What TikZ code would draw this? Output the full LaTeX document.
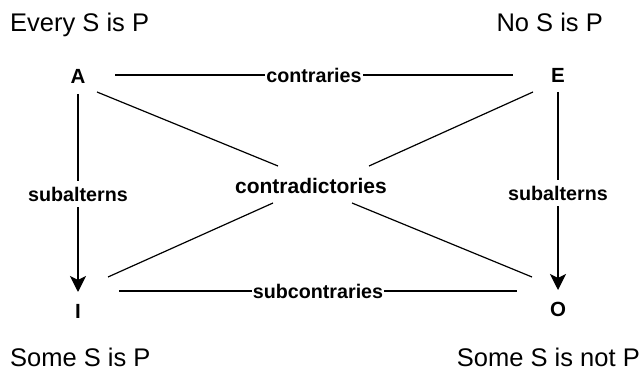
\documentclass[tikz,border=0pt]{standalone}
\usepackage{fontspec}
\setmainfont{Liberation Sans}
\usetikzlibrary{arrows.meta}
\begin{document}
\begin{tikzpicture}[x=1pt,y=-1pt,
  big/.style={font=\fontsize{25.5}{28}\selectfont, inner sep=0pt},
  cornerletter/.style={font=\fontsize{20.5}{24}\selectfont\bfseries, inner sep=0pt, anchor=base},
  hlabel/.style={font=\fontsize{19.7}{22}\selectfont\bfseries, fill=white, inner xsep=1pt, inner ysep=2pt},
  vlabel/.style={font=\fontsize{19.7}{22}\selectfont\bfseries, fill=white, inner xsep=2pt, inner ysep=6pt},
  conn/.style={line width=1.2pt},
  arr/.style={conn, -{Stealth[length=16pt,width=16pt,inset=4pt]}}]
\useasboundingbox (0,0) rectangle (641,387);
% statements
\node[big, anchor=base west] (tA) at (10,32) {Every S is P};
\node[big, anchor=base east] (tE) at (603,32) {No S is P};
\node[big, anchor=base west] (tI) at (10,367) {Some S is P};
\node[big, anchor=base east] (tO) at (640,367) {Some S is not P};
% corners
\node[cornerletter] (A) at (78,84) {A};
\node[cornerletter] (E) at (558,83) {E};
\node[cornerletter] (I) at (78,319) {I};
\node[cornerletter] (O) at (558,317) {O};
% connector ends
\coordinate (a1) at (115,75);  \coordinate (e1) at (513,75);
\coordinate (a2) at (78,94);   \coordinate (i2) at (78,292);
\coordinate (e2) at (558,92);  \coordinate (o2) at (558,290);
\coordinate (i1) at (119,291); \coordinate (o1) at (517,291);
\coordinate (a3) at (97,92);   \coordinate (a4) at (278,166);
\coordinate (o3) at (352,203); \coordinate (o4) at (532,277);
\coordinate (e3) at (533,92);  \coordinate (e4) at (369,166);
\coordinate (i3) at (273,203); \coordinate (i4) at (108,277);
% contraries and subcontraries
\draw[conn] (a1) -- (e1) node[hlabel, midway] (lc) {contraries};
\draw[conn] (i1) -- (o1) node[hlabel, midway] (lsc) {subcontraries};
% subalterns
\draw[arr] (a2) -- (i2) node[vlabel, pos=0.505] (lsl) {subalterns};
\draw[arr] (e2) -- (o2) node[vlabel, pos=0.51] (lsr) {subalterns};
% contradictories
\draw[conn] (a3) -- (a4);
\draw[conn] (o3) -- (o4);
\draw[conn] (e3) -- (e4);
\draw[conn] (i3) -- (i4);
\node[font=\fontsize{21}{24}\selectfont\bfseries, inner sep=0pt] (lcd) at (311,186) {contradictories};
\end{tikzpicture}
\end{document}
